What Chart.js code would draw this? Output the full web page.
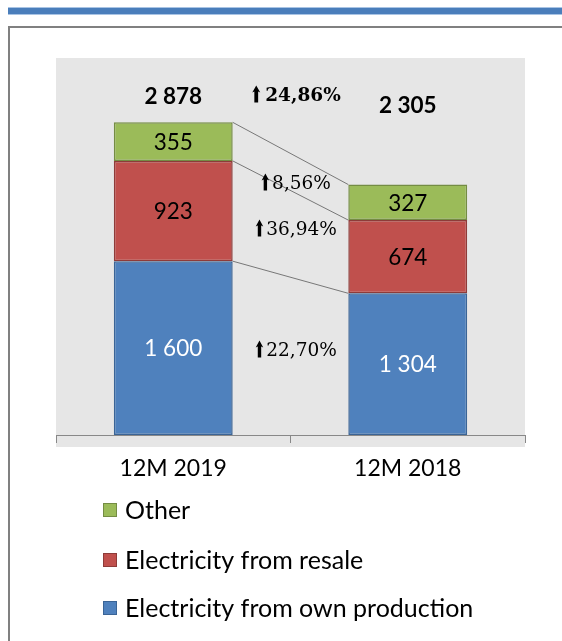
<!DOCTYPE html>
<html>
<head>
<meta charset="utf-8">
<script src="https://cdn.jsdelivr.net/npm/chart.js@4.4.1/dist/chart.umd.min.js"></script>
<style>
  html, body { margin: 0; padding: 0; background: #fff; }
  #page { position: relative; width: 562px; height: 641px; overflow: hidden; }
  #strip { position: absolute; left: 8px; top: 7px; right: 0; height: 6px;
           background: #4a7ebb; border-top: 1px solid #a9c4e4; border-bottom: 1px solid #a9c4e4; }
  #frame { position: absolute; left: 8px; top: 26px; width: 600px; height: 700px;
           border: 2px solid #808080; }
  #chart { position: absolute; left: 0; top: 0; }
</style>
</head>
<body>
<div id="page">
  <div id="strip"></div>
  <div id="frame"></div>
  <canvas id="chart" width="562" height="641"></canvas>
</div>
<script>
// 数据
const periods = ['12M 2019', '12M 2018'];
const ownProduction = [1600, 1304];
const resale = [923, 674];
const other = [355, 327];
const seriesNames = ['Electricity from own production', 'Electricity from resale', 'Other'];
// 同比增长 (总计, Other, resale, own production)
const growthLabels = ['24,86%', '8,56%', '36,94%', '22,70%'];

// 标签的位置 (数值坐标)
const totalLabelAt = [3110, 3030];
const growthLabelAt = [3130, 2320, 1897, 783];

const fills = ['#4f81bd', '#c0504d', '#9bbb59'];
const borders = ['#3a6496', '#8e3b39', '#748c43'];
const sansFont = 'Lato, "Open Sans", sans-serif';
const serifFont = '"DejaVu Serif", serif';

const totals = periods.map((p, i) => ownProduction[i] + resale[i] + other[i]);
const fmt = v => v.toLocaleString('en-US').replace(/,/g, ' ');

// 灰色背景
const backgroundPlugin = {
    id: 'plotBackground',
    beforeDraw(chart) {
        const a = chart.chartArea;
        const ctx = chart.ctx;
        ctx.save();
        ctx.fillStyle = '#e6e6e6';
        ctx.fillRect(a.left, a.top, a.right - a.left, a.bottom - a.top + 12);
        ctx.restore();
    }
};

// 向上箭头
function drawArrow(ctx, x, cy, bold) {
    const h = 17, head = bold ? 8 : 7.5, shaft = bold ? 3.8 : 3.4;
    const top = cy - h / 2 - 1;
    const c = x + head / 2;
    ctx.beginPath();
    ctx.moveTo(c, top);
    ctx.lineTo(x + head, top + 7);
    ctx.lineTo(c + shaft / 2, top + 6);
    ctx.lineTo(c + shaft / 2, top + h);
    ctx.lineTo(c - shaft / 2, top + h);
    ctx.lineTo(c - shaft / 2, top + 6);
    ctx.lineTo(x, top + 7);
    ctx.closePath();
    ctx.fillStyle = '#000';
    ctx.fill();
    return head;
}

// 数据标签、连接线、图例
const annotatePlugin = {
    id: 'annotate',
    afterDatasetsDraw(chart) {
        const ctx = chart.ctx;
        const yScale = chart.scales.y;
        const metas = chart.data.datasets.map((d, i) => chart.getDatasetMeta(i));
        ctx.save();

        // 连接线
        ctx.strokeStyle = '#5a5a5a';
        ctx.lineWidth = 0.8;
        metas.forEach(meta => {
            const a = meta.data[0], b = meta.data[1];
            ctx.beginPath();
            ctx.moveTo(a.x + a.width / 2, a.y);
            ctx.lineTo(b.x - b.width / 2, b.y);
            ctx.stroke();
        });

        // 段内数值
        ctx.textAlign = 'center';
        ctx.textBaseline = 'middle';
        ctx.font = '22.5px ' + sansFont;
        metas.forEach((meta, di) => {
            meta.data.forEach((bar, i) => {
                const v = chart.data.datasets[di].data[i];
                ctx.fillStyle = di === 0 ? '#ffffff' : '#000000';
                ctx.fillText(fmt(v), bar.x, (bar.y + bar.base) / 2 + 1);
            });
        });

        // 总计
        ctx.font = 'bold 22.5px ' + sansFont;
        ctx.fillStyle = '#000';
        metas[0].data.forEach((bar, i) => {
            ctx.fillText(fmt(totals[i]), bar.x, yScale.getPixelForValue(totalLabelAt[i]));
        });

        // 增长率
        const b0 = metas[0].data[0], b1 = metas[0].data[1];
        const midX = (b0.x + b0.width / 2 + b1.x - b1.width / 2) / 2 + 6;
        growthLabels.forEach((txt, i) => {
            const bold = i === 0;
            ctx.font = (bold ? 'bold ' : '') + '18.5px ' + serifFont;
            const tw = ctx.measureText(txt).width;
            const gap = bold ? 5 : 3;
            const total = 8 + gap + tw;
            const x0 = midX - total / 2;
            const cy = yScale.getPixelForValue(growthLabelAt[i]);
            const hw = drawArrow(ctx, x0, cy, bold);
            ctx.textAlign = 'left';
            ctx.fillStyle = '#000';
            ctx.fillText(txt, x0 + hw + gap, cy + 1);
        });

        // 图例 (倒序)
        ctx.font = '25px ' + sansFont;
        ctx.textAlign = 'left';
        const legendY = [510, 560, 608];
        [2, 1, 0].forEach((di, k) => {
            const y = legendY[k];
            ctx.fillStyle = fills[di];
            ctx.fillRect(103, y - 7, 14, 14);
            ctx.strokeStyle = borders[di];
            ctx.lineWidth = 1;
            ctx.strokeRect(103.5, y - 6.5, 13, 13);
            ctx.fillStyle = '#000';
            ctx.fillText(chart.data.datasets[di].label, 125, y + 1);
        });

        ctx.restore();
    }
};

const seriesValues = [ownProduction, resale, other];

new Chart(document.getElementById('chart').getContext('2d'), {
    type: 'bar',
    data: {
        labels: periods,
        datasets: seriesValues.map((vals, i) => ({
            label: seriesNames[i],
            data: vals,
            backgroundColor: fills[i],
            borderColor: borders[i],
            borderWidth: 1.5,
            borderSkipped: false,
            categoryPercentage: 1,
            barPercentage: 0.507
        }))
    },
    options: {
        responsive: false,
        animation: false,
        layout: { padding: { left: 56, right: 37, top: 58, bottom: 0 } },
        plugins: {
            legend: { display: false },
            tooltip: { enabled: false }
        },
        scales: {
            x: {
                stacked: true,
                afterFit: scale => { scale.height = 206; },
                grid: {
                    offset: true,
                    drawOnChartArea: false,
                    drawTicks: true,
                    tickLength: 8,
                    color: '#888888',
                    lineWidth: 1
                },
                border: { display: true, color: '#888888', width: 1 },
                ticks: {
                    padding: 12,
                    color: '#000',
                    font: { family: 'Lato', size: 23 }
                }
            },
            y: {
                stacked: true,
                display: false,
                min: 0,
                max: 3470
            }
        }
    },
    plugins: [backgroundPlugin, annotatePlugin]
});
</script>
</body>
</html>
